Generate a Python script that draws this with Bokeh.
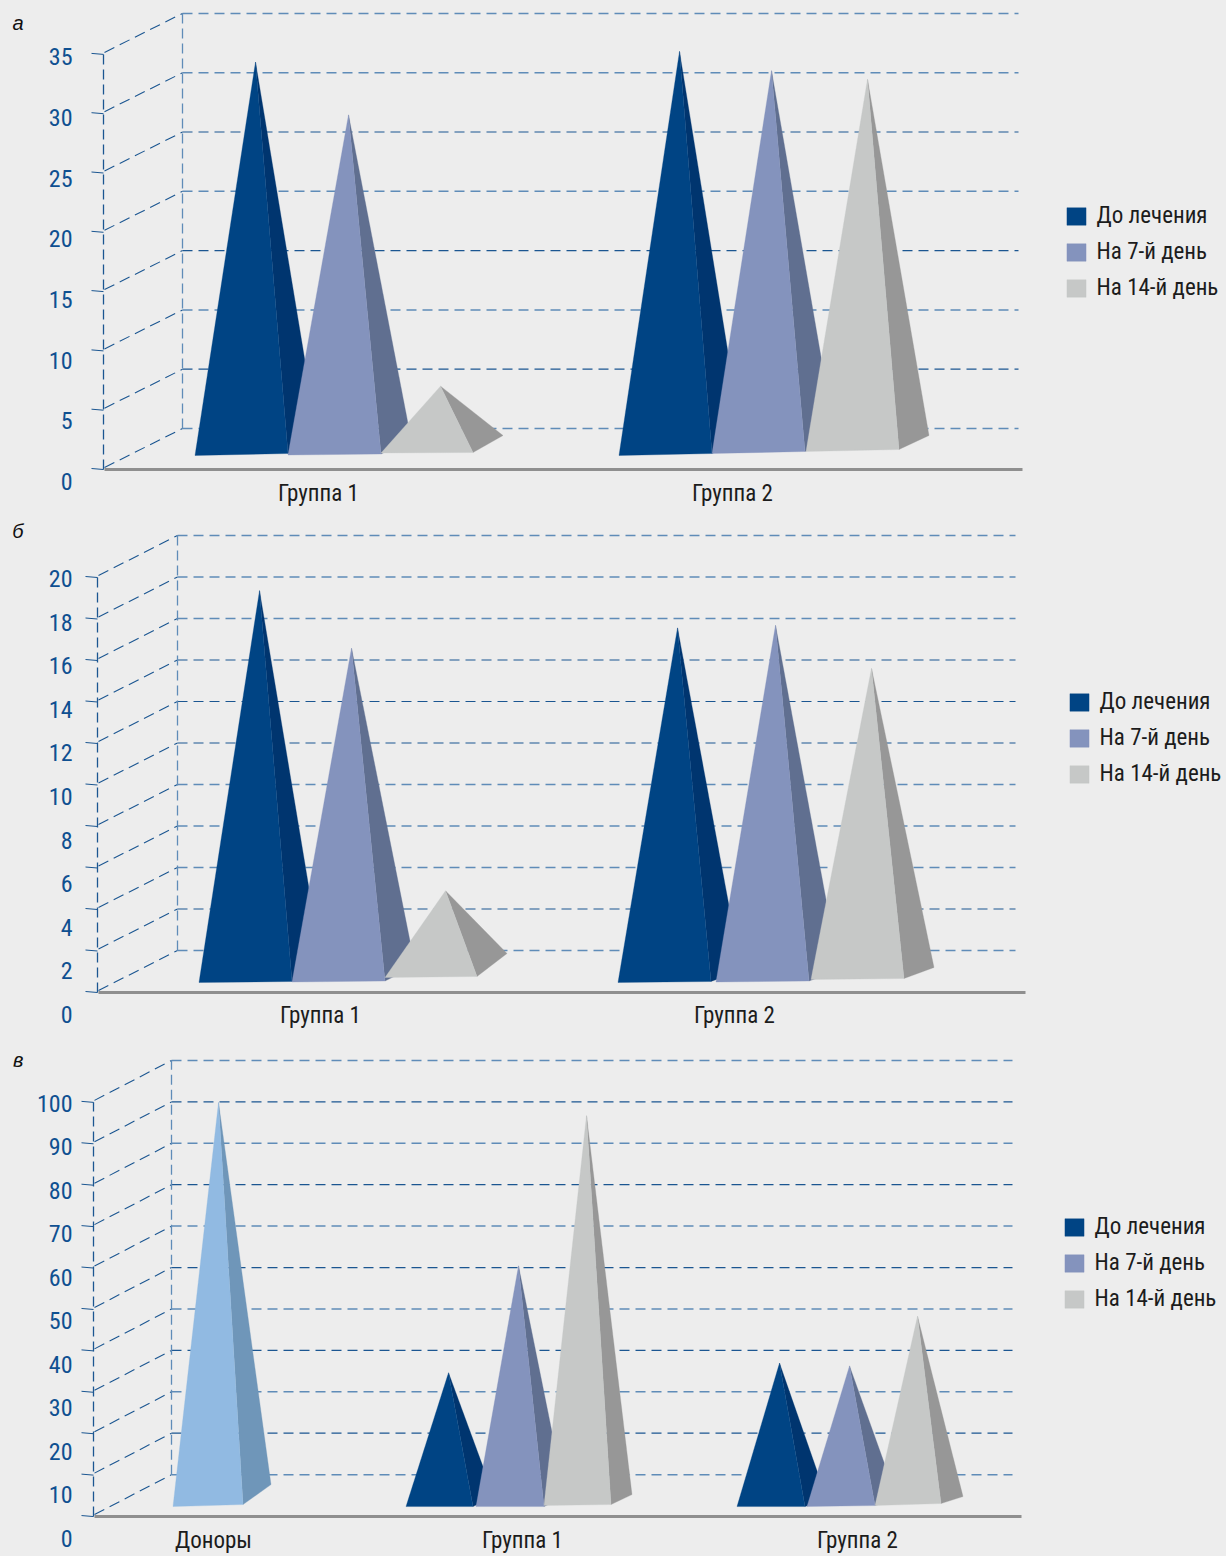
from bokeh.plotting import figure
from bokeh.layouts import column
from bokeh.models import (FixedTicker, Legend, LegendItem, LinearAxis, Range1d)
from bokeh.embed import file_html
from bokeh.resources import INLINE

# ---------- data ----------
series_names = ["До лечения", "На 7-й день", "На 14-й день"]
a_groups = ["Группа 1", "Группа 2"]
a_group1 = [32.5, 28.0, 4.9]
a_group2 = [33.4, 31.6, 30.7]
a_ticks = [0, 5, 10, 15, 20, 25, 30, 35]

b_groups = ["Группа 1", "Группа 2"]
b_group1 = [18.5, 15.7, 3.6]
b_group2 = [16.8, 16.9, 14.7]
b_ticks = [0, 2, 4, 6, 8, 10, 12, 14, 16, 18, 20]

c_groups = ["Доноры", "Группа 1", "Группа 2"]
c_donors = [94.9]
c_group1 = [31.1, 56.9, 92.8]
c_group2 = [33.8, 33.0, 44.6]
c_ticks = [0, 10, 20, 30, 40, 50, 60, 70, 80, 90, 100]

# ---------- style ----------
BG = "#ededed"
FRONT = ["#004484", "#8493bd", "#c6c8c7"]
SIDE = ["#00356f", "#606f90", "#979797"]
DONOR_FRONT, DONOR_SIDE = "#91bae2", "#6f96b9"
LIGHT, DARK = "#5f8cb8", "#1b5691"
LABEL_BLUE = "#0f5091"
TEXT = "#1c1c1c"
FONT = "Roboto Condensed"
FL = 78           # x of frame left
FR = 1226

panels = [
    dict(letter="а", letter_y=22, letter_stand=22, ptop=0, fbottom=482, pbottom=510, xstand=-3, shades="LLDLDLDL",
         floor=469, x0=103, x1=182, back=428, ppu=11.86, gridr=1018, floorr=1022,
         lab0=481, lab_ppu=12.14, ticks=a_ticks, names=a_groups, centers=[318, 732],
         legend=(1067, 209),
         groups=[
             dict(vals=a_group1, series=[0, 1, 2], xl=[195, 288, 381], w=[93, 93, 92],
                  yl=[455, 454.5, 452.5], yr=[453, 453.5, 452], dx=30, dy=[-14, -15, -17], ax=[61, 61, 60]),
             dict(vals=a_group2, series=[0, 1, 2], xl=[619, 712, 806], w=[93, 93, 93],
                  yl=[455, 453, 451], yr=[453, 451, 449], dx=30, dy=[-14, -14, -14], ax=[61, 60, 62]),
         ]),
    dict(letter="б", letter_y=530, letter_stand=22, ptop=510, fbottom=1016, pbottom=1036, xstand=-15, shades="LLLDDDLLLDL",
         floor=992, x0=97, x1=177, back=950, ppu=20.75, gridr=1015, floorr=1025,
         lab0=1014, lab_ppu=21.8, ticks=b_ticks, names=b_groups, centers=[320, 734],
         legend=(1070, 695),
         groups=[
             dict(vals=b_group1, series=[0, 1, 2], xl=[199, 292, 385], w=[93, 93, 92],
                  yl=[982, 981.5, 977], yr=[981, 980.5, 976], dx=30, dy=[-15, -15, -23], ax=[61, 60, 61]),
             dict(vals=b_group2, series=[0, 1, 2], xl=[618, 716, 811], w=[93, 93, 93],
                  yl=[982, 981.5, 979], yr=[981, 980.5, 978], dx=30, dy=[-11, -11, -11], ax=[60, 60, 61]),
         ]),
    dict(letter="в", letter_y=1060, letter_stand=10, ptop=1036, fbottom=1541, pbottom=1556, xstand=-14, shades="LDLDLDLDLDL",
         floor=1517, x0=93, x1=171, back=1475, ppu=4.15, gridr=1012, floorr=1021,
         lab0=1539, lab_ppu=4.36, ticks=c_ticks, names=c_groups, centers=[213, 522, 857],
         legend=(1065, 1221),
         groups=[
             dict(vals=c_donors, series=[-1], xl=[173], w=[70],
                  yl=[1507], yr=[1505], dx=28, dy=[-20], ax=[46]),
             dict(vals=c_group1, series=[0, 1, 2], xl=[406, 476, 544], w=[67, 68, 67],
                  yl=[1507, 1507, 1506], yr=[1507, 1507, 1505], dx=21, dy=[-10, -10, -10], ax=[43, 43, 43]),
             dict(vals=c_group2, series=[0, 1, 2], xl=[737, 807, 875], w=[68, 68, 66],
                  yl=[1507, 1507, 1506], yr=[1507, 1506, 1504], dx=22, dy=[-7, -7, -7], ax=[43, 43, 43]),
         ]),
]


def build(cfg):
    ppu, floor = cfg["ppu"], cfg["floor"]
    to_v = lambda py: (floor - py) / ppu
    ptop, fb, pb = cfg["ptop"], cfg["fbottom"], cfg["pbottom"]
    p = figure(width=FR, height=pb - ptop, output_backend="svg", toolbar_location=None,
               x_range=Range1d(FL, FR), y_range=Range1d(to_v(fb), to_v(ptop)),
               y_axis_location=None, x_axis_location=None,
               min_border_left=FL, min_border_right=0, min_border_top=0,
               min_border_bottom=pb - fb, background_fill_color=BG, border_fill_color=BG,
               outline_line_color=None)
    p.xgrid.visible = False
    p.ygrid.visible = False

    plain = dict(axis_line_color=None, major_tick_line_color=None, minor_tick_line_color=None,
                 major_tick_in=0, major_tick_out=0, minor_tick_out=0, minor_tick_in=0)

    lab0, lp = cfg["lab0"], cfg["lab_ppu"]
    p.extra_y_ranges["lbl"] = Range1d((lab0 - fb) / lp, (lab0 - ptop) / lp)
    ya = LinearAxis(y_range_name="lbl", ticker=FixedTicker(ticks=cfg["ticks"]),
                    major_label_standoff=6, major_label_text_color=LABEL_BLUE,
                    major_label_text_font=FONT, major_label_text_font_size="24px", **plain)
    p.add_layout(ya, "left")

    # panel letter: a one-tick axis stacked left of the value axis
    ly0 = cfg["letter_y"]
    p.extra_y_ranges["letter"] = Range1d(1 + ly0 - fb, 1 + ly0 - ptop)
    la = LinearAxis(y_range_name="letter", ticker=FixedTicker(ticks=[1]),
                    major_label_overrides={1: cfg["letter"]},
                    major_label_standoff=cfg["letter_stand"], major_label_text_color="#111111",
                    major_label_text_font="Liberation Sans", major_label_text_font_style="italic",
                    major_label_text_font_size="20px", **plain)
    p.add_layout(la, "left")

    xa = LinearAxis(ticker=FixedTicker(ticks=cfg["centers"]),
                    major_label_overrides=dict(zip(cfg["centers"], cfg["names"])),
                    major_label_standoff=cfg["xstand"], major_label_text_color=TEXT,
                    major_label_text_font=FONT, major_label_text_font_size="23px", **plain)
    p.add_layout(xa, "below")

    ticks = cfg["ticks"]
    x0, x1, rise = cfg["x0"], cfg["x1"], (floor - cfg["back"]) / ppu
    shades = cfg["shades"][::-1]
    gxs, gys, cols, wid = [], [], [], []
    for i, t in enumerate(ticks):
        gxs.append([x1, cfg["gridr"]])
        gys.append([t + rise, t + rise])
        cols.append(LIGHT if shades[i] == "L" else DARK)
        wid.append(1.5 if shades[i] == "L" else 1.2)
    p.multi_line(gxs, gys, line_color=cols, line_width=wid, line_dash="10 6")
    p.multi_line([[x0 + 1, x1] for _ in ticks], [[t + 2 / ppu, t + rise] for t in ticks],
                 line_color=DARK, line_width=1.1, line_dash="11 6")
    p.multi_line([[x0, x0], [x1, x1]], [[0, ticks[-1]], [rise, ticks[-1] + rise]],
                 line_color=[DARK, LIGHT], line_width=1.3, line_dash="10 5")
    p.segment([x0 - 12] * len(ticks), [t + 1 / ppu for t in ticks], [x0] * len(ticks), ticks,
              line_color=DARK, line_width=1)
    p.line([x0 + 1, cfg["floorr"]], [0, 0], line_color="#8f8f8f", line_width=3)

    legend_items = {}
    for s in [-1, 0, 1, 2]:
        fx, fy, sx, sy = [], [], [], []
        for g in cfg["groups"]:
            for k, sid in enumerate(g["series"]):
                if sid != s:
                    continue
                xl, w, yl, yr, dy, ax = g["xl"][k] - 0.5, g["w"][k], g["yl"][k], g["yr"][k], g["dy"][k], g["ax"][k]
                base = (yl + yr) / 2 + dy / 2
                apex_v = to_v(base) + g["vals"][k]
                apex_x = xl + ax - 0.5
                fx.append([xl, xl + w, apex_x])
                fy.append([to_v(yl), to_v(yr), apex_v])
                sx.append([xl + w, xl + w + g["dx"], apex_x])
                sy.append([to_v(yr), to_v(yr + dy), apex_v])
        if not fx:
            continue
        c1 = DONOR_FRONT if s < 0 else FRONT[s]
        c2 = DONOR_SIDE if s < 0 else SIDE[s]
        p.patches(sx, sy, fill_color=c2, line_color=c2, line_width=0.3)
        r = p.patches(fx, fy, fill_color=c1, line_color=c1, line_width=0.3)
        if s >= 0:
            legend_items[s] = r
    lx, ly = cfg["legend"]
    leg = Legend(items=[LegendItem(label=series_names[s], renderers=[legend_items[s]]) for s in [0, 1, 2]],
                 location=(lx - 3.4 - FL, fb - (ly + 92)), orientation="vertical",
                 background_fill_alpha=0, border_line_color=None, padding=0, margin=0,
                 glyph_width=24, glyph_height=22, label_height=18, spacing=9, label_standoff=9,
                 label_text_font=FONT, label_text_font_size="23px", label_text_color=TEXT,
                 label_text_baseline="middle")
    p.add_layout(leg, "center")
    return p


page = column(*[build(c) for c in panels], spacing=0)
html = file_html(page, INLINE)
html = html.replace("<head>", "<head><style>html,body{background:%s}</style>" % BG, 1)
open("out.html", "w").write(html)
